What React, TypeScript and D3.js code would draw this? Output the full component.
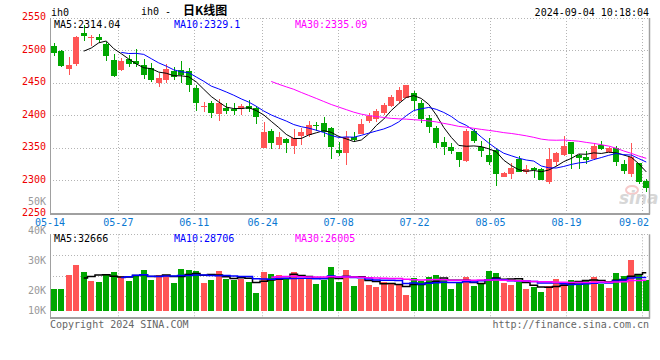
import React from "react";
import * as d3 from "d3";

const dates = [
  "05-14","05-15","05-16","05-17","05-20","05-21","05-22","05-23","05-24","05-27","05-28","05-29","05-30","05-31",
  "06-03","06-04","06-05","06-06","06-07","06-11","06-12","06-13","06-14","06-17","06-18","06-19","06-20","06-21","06-24","06-25","06-26","06-27","06-28",
  "07-01","07-02","07-03","07-04","07-05","07-08","07-09","07-10","07-11","07-12","07-15","07-16","07-17","07-18","07-19","07-22","07-23","07-24","07-25","07-26","07-29","07-30","07-31",
  "08-01","08-02","08-05","08-06","08-07","08-08","08-09","08-12","08-13","08-14","08-15","08-16","08-19","08-20","08-21","08-22","08-23","08-26","08-27","08-28","08-29","08-30",
  "09-02","09-03"
];
const open = [
  2507,2500,2472.4,2480,2527,2520,2521.5,2510,2485.7,2470.3,2486.7,2484.2,2478,2473,2449.9,2455,2468.8,2470,2469.3,2443,
  2413,2419.7,2403,2411.5,2410.5,2410,2415,2412,2351,2376.7,2355,2365,2353.6,2369,2370.6,2385.4,2389,2381.3,2347.3,2343.4,
  2367,2372,2392.5,2394.6,2403.7,2415.6,2423.3,2427.9,2435.6,2419.6,2396,2381.8,2360,2352.6,2344.4,2331,2376.7,2351.6,2339.8,2347.3,
  2306.4,2310.6,2333.6,2314.2,2320.3,2317.8,2298.8,2329.5,2339.8,2360.3,2339.8,2337.2,2333.6,2355.2,2344,2350,2325.4,2310.6,2327,2299.9
];
const high = [
  2511,2501,2489.8,2522.6,2540,2524,2525.7,2513.9,2495,2488.3,2493.4,2502,2486.7,2480.6,2466.3,2479.6,2474.5,2484.7,2474,2447,
  2421.7,2422.7,2425,2419,2420,2418,2424,2415,2390,2379.8,2375,2366,2379.8,2381.8,2392.5,2391,2398.6,2383.3,2359.8,2376.7,
  2375,2394.6,2403.7,2411,2419,2432,2443.7,2447.3,2438,2424,2401,2384.3,2368,2357.6,2344.4,2379.8,2379.8,2361.3,2365.4,2350,
  2314,2328,2338.8,2324.5,2321.9,2319.4,2350,2345,2369,2360.3,2341.3,2346,2357.6,2361.3,2352.6,2353.6,2332,2358.7,2328,2303
];
const low = [
  2492,2475.5,2463.2,2477,2515,2507,2511.3,2484.7,2460,2469.3,2474.4,2475.5,2456,2452.4,2443.7,2451,2455,2451,2437,2408,
  2406.4,2397,2392.6,2403,2401,2401,2405,2387,2351,2349.5,2349.5,2343.4,2340.8,2355,2367,2376.7,2367,2334,2338.3,2324.5,
  2360,2372,2389.4,2391,2401,2413,2420,2427,2409,2388.3,2374,2350,2340,2341.3,2321,2329,2357.6,2337,2324.5,2292.7,
  2305.5,2303,2314.2,2310.6,2304,2301.4,2295.3,2323.4,2338.8,2319,2319,2326,2332,2347.6,2342.3,2323.4,2310.6,2306.4,2295.3,2283.5
];
const close = [
  2497,2476.5,2478.6,2520.5,2523,2521,2516.5,2492.4,2461.7,2484.7,2480,2479,2462.7,2455,2458,2471.4,2460,2462,2447.3,2419,
  2415,2404.3,2420,2407.9,2408,2415,2411,2398,2374.3,2358.7,2367.3,2358.7,2366,2375,2385.4,2384,2375.6,2352.6,2343.4,2367,
  2363,2387.4,2399.6,2407.9,2416.6,2428.9,2439.6,2447.3,2422.2,2394.6,2383.3,2358.7,2351.5,2346.3,2332.6,2376.7,2361.3,2346.3,2329.5,2310.4,
  2311.4,2320.3,2314.2,2317.8,2316.6,2301.4,2333.6,2342.8,2353.6,2341.3,2334.7,2332,2353.6,2349,2351.1,2329.5,2315.2,2337.2,2298.8,2288.6
];
const volume = [
  18800,18800,30800,39300,33300,25600,24800,31600,33300,29900,25600,30800,35000,26500,30800,30800,23900,35900,35000,34200,
  23900,26500,34200,27400,26500,27400,24800,15400,33300,31600,30800,28200,33300,28200,27400,23100,26500,37600,24800,35000,
  21400,27400,22200,20500,24800,23100,23100,13700,28200,25600,29100,30800,27400,18800,24800,29100,21400,23900,34200,32500,
  23900,22200,24800,18800,20500,16200,21400,27400,24800,26500,25600,26500,29100,23100,19700,32500,29900,43600,30800,26500
];

const priceTicks = [2250, 2300, 2350, 2400, 2450, 2500, 2550];
const dateTicks = ["05-14", "05-27", "06-11", "06-24", "07-08", "07-22", "08-05", "08-19", "09-02"];
const volTickValues = [50000, 40000, 30000, 20000, 10000];
const maPeriods = [5, 10, 30];
const priceMALabels = ["MA5:2314.04", "MA10:2329.1", "MA30:2335.09"];
const volMALabels = ["MA5:32666", "MA10:28706", "MA30:26005"];
const symbol = "ih0";
const titleText = "日K线图";
const timeStamp = "2024-09-04 10:18:04";
const copyright = "Copyright 2024 SINA.COM";
const url = "http://finance.sina.com.cn";

const MONO = "'DejaVu Sans Mono', 'Liberation Mono', monospace";
const UP = "#ff5555";
const DOWN = "#00a600";
const MA_COLORS = ["#000000", "#0000ff", "#ff00ff"];
const GRID = "#b4b4b4";
const BORDER = "#a0a0a0";

function movingAverage(arr: number[], n: number): (number | null)[] {
  return arr.map((_, i) => (i < n - 1 ? null : (d3.mean(arr.slice(i - n + 1, i + 1)) as number)));
}

export default function App() {
  const W = 660, H = 360;
  const left = 50, right = 650;
  const pTop = 18, pBottom = 213.5;
  const vTop = 234.3, vBottom = 317.7, vBase = 311;

  const idx = d3.range(close.length);
  const xBand = d3.scaleBand<number>().domain(idx).range([left, right]).paddingInner(0.2).paddingOuter(0.1);
  const xGrid = d3.scalePoint<number>().domain(idx).range([left, right]);
  const yP = d3.scaleLinear().domain([2250, 2550]).range([pBottom, pTop]);
  const yV = d3.scaleLinear().domain([0, 60000]).range([vBase, vBase - 70.2]);
  const volLabelY = d3.scaleLinear().domain([20000, 50000]).range([290, 201]);

  const bw = xBand.bandwidth();
  const cx = (i: number) => (xBand(i) as number) + bw / 2;
  const crisp = (v: number) => Math.floor(v) + 0.5;

  const priceMA = maPeriods.map((n) => movingAverage(close, n));
  const volMA = maPeriods.map((n) => movingAverage(volume, n));

  const pLine = d3
    .line<[number, number | null]>()
    .defined((d) => d[1] != null)
    .x((d) => cx(d[0]))
    .y((d) => yP(d[1] as number));
  const vLine = d3
    .line<[number, number | null]>()
    .defined((d) => d[1] != null)
    .x((d) => cx(d[0]))
    .y((d) => yV(d[1] as number))
    .curve(d3.curveStep);

  const tickIdx = dateTicks.map((t) => dates.indexOf(t));
  const vGridYs = d3.range(1, 4).map((k) => vTop + (k * (vBottom - vTop)) / 4);

  return (
    <svg width={W} height={H} style={{ position: "absolute", left: 0, top: 0, background: "#fff" }} fontFamily={MONO}>
      <rect x={0} y={0} width={W} height={H} fill="#fff" />

      {/* header */}
      <text x={51} y={16} fontSize={10} fill="#000">{symbol}</text>
      <text x={141} y={15} fontSize={10} fill="#000">{symbol} -</text>
      <text x={183} y={15} fontSize={12} fontWeight="bold" fill="#000" fontFamily="'Noto Sans CJK SC', sans-serif">{titleText}</text>
      <text x={649} y={16} fontSize={10} fill="#000" textAnchor="end">{timeStamp}</text>

      {/* price grid */}
      {priceTicks.filter((t) => t > 2250).map((t) => (
        <line key={"pg" + t} x1={left} x2={right} y1={crisp(yP(t))} y2={crisp(yP(t))} stroke={GRID} strokeDasharray="1,2" />
      ))}
      {tickIdx.slice(1).map((i) => (
        <line key={"vg" + i} x1={crisp(xGrid(i) as number)} x2={crisp(xGrid(i) as number)} y1={pTop} y2={pBottom} stroke={GRID} strokeDasharray="1,2" />
      ))}
      {/* price borders */}
      <line x1={50.5} x2={50.5} y1={pTop} y2={pBottom + 1} stroke={BORDER} />
      <line x1={649.5} x2={649.5} y1={pTop} y2={pBottom + 1} stroke={BORDER} strokeWidth={1.5} />
      <line x1={50} x2={650} y1={214} y2={214} stroke={BORDER} strokeWidth={2} />

      {/* watermark */}
      <g opacity={0.55}>
        <ellipse cx={632} cy={190} rx={6} ry={4} fill="none" stroke="#f0a0a0" strokeWidth={2} />
        <text x={619} y={204} fontSize={17} fontStyle="italic" fontWeight="bold" fill="#b8b8b8" fontFamily="'DejaVu Sans', sans-serif">sina</text>
      </g>

      {/* candles */}
      {idx.map((i) => {
        const up = close[i] >= open[i];
        const col = up ? UP : DOWN;
        const x = Math.round(xBand(i) as number);
        const yT = yP(Math.max(open[i], close[i]));
        const yB = yP(Math.min(open[i], close[i]));
        return (
          <g key={"c" + i} shapeRendering="crispEdges">
            <line x1={x + 3.5} x2={x + 3.5} y1={yP(high[i])} y2={yP(low[i])} stroke={col} />
            <rect x={x} y={yT} width={Math.round(bw)} height={Math.max(1, yB - yT)} fill={col} />
          </g>
        );
      })}

      {/* price MAs */}
      {priceMA.map((m, k) => (
        <path key={"pm" + k} d={pLine(m.map((v, i) => [i, v] as [number, number | null])) || ""} fill="none" stroke={MA_COLORS[k]} strokeWidth={1} />
      ))}

      {/* price axis labels */}
      {priceTicks.map((t) => (
        <text key={"pl" + t} x={46} y={yP(t) + 2} fontSize={10} fill="#ee0000" textAnchor="end">{t}</text>
      ))}
      {priceMALabels.map((s, k) => (
        <text key={"pml" + k} x={[54, 174, 295][k]} y={28} fontSize={10} fill={MA_COLORS[k]}>{s}</text>
      ))}

      {/* date labels */}
      {tickIdx.map((i, k) => {
        const gx = xGrid(i) as number;
        const last = gx + 15 > right;
        return (
          <text key={"dl" + k} x={last ? 649 : gx} y={225.5} fontSize={10} fill="#0a78d2" textAnchor={last ? "end" : "middle"}>{dateTicks[k]}</text>
        );
      })}

      {/* volume grid */}
      <line x1={left} x2={right} y1={234.5} y2={234.5} stroke={GRID} strokeDasharray="1,2" />
      {vGridYs.map((y, k) => (
        <line key={"vgy" + k} x1={left} x2={right} y1={crisp(y)} y2={crisp(y)} stroke={GRID} strokeDasharray="1,2" />
      ))}
      {tickIdx.slice(1).map((i) => (
        <line key={"vvg" + i} x1={crisp(xGrid(i) as number)} x2={crisp(xGrid(i) as number)} y1={vTop} y2={vBottom} stroke={GRID} strokeDasharray="1,2" />
      ))}
      <line x1={50.5} x2={50.5} y1={vTop} y2={vBottom + 1} stroke={BORDER} />
      <line x1={649.5} x2={649.5} y1={vTop} y2={vBottom + 1} stroke={BORDER} strokeWidth={1.5} />
      <line x1={50} x2={650} y1={318} y2={318} stroke={BORDER} strokeWidth={2} />

      {/* volume bars */}
      {idx.map((i) => {
        const up = close[i] >= open[i];
        const x = Math.round(xBand(i) as number);
        const y = yV(volume[i]);
        return <rect key={"v" + i} x={x} y={y} width={Math.round(bw)} height={yV(0) - y} fill={up ? UP : DOWN} shapeRendering="crispEdges" />;
      })}
      {volMA.map((m, k) => (
        <path key={"vm" + k} d={vLine(m.map((v, i) => [i, v] as [number, number | null])) || ""} fill="none" stroke={MA_COLORS[k]} strokeWidth={1.5} />
      ))}

      {/* volume labels */}
      {volTickValues.map((v) => (
        <text key={"vl" + v} x={46} y={Math.min(volLabelY(v), 310) + 3.6} fontSize={10} fill="#999" textAnchor="end">{v / 1000 + "K"}</text>
      ))}
      {volMALabels.map((s, k) => (
        <text key={"vml" + k} x={[54, 174, 295][k]} y={242} fontSize={10} fill={MA_COLORS[k]}>{s}</text>
      ))}

      {/* footer */}
      <text x={50} y={327.5} fontSize={10} fill="#666">{copyright}</text>
      <text x={649} y={327.5} fontSize={10} fill="#666" textAnchor="end">{url}</text>
    </svg>
  );
}
